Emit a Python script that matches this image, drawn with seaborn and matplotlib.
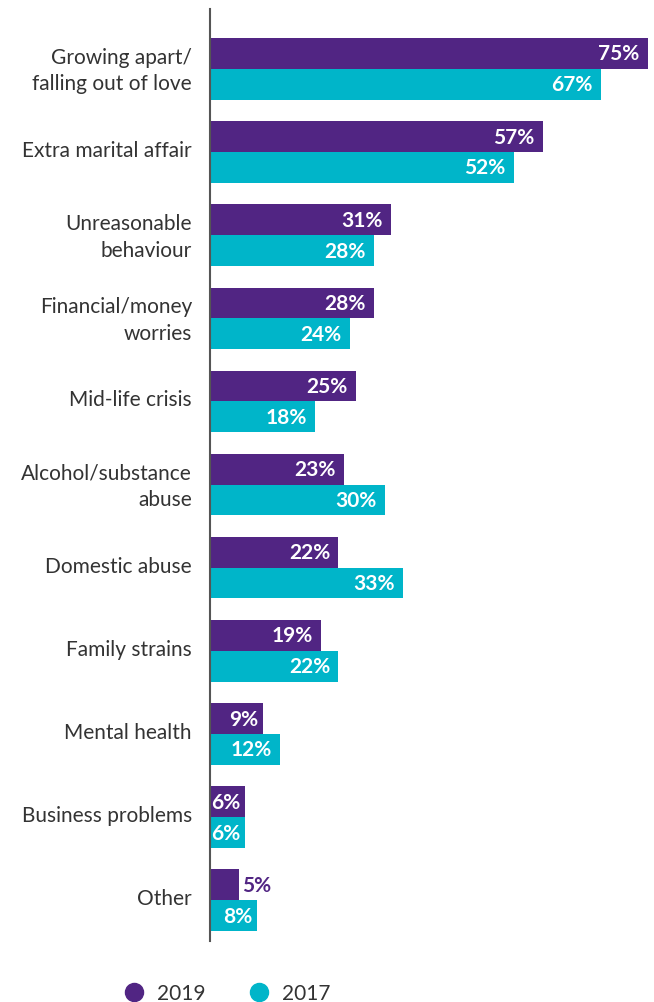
import matplotlib
matplotlib.use("Agg")
import matplotlib.pyplot as plt
import matplotlib.transforms as mtransforms
from matplotlib.lines import Line2D
import seaborn as sns
import pandas as pd

reasons = [
    "Growing apart/\nfalling out of love",
    "Extra marital affair",
    "Unreasonable\nbehaviour",
    "Financial/money\nworries",
    "Mid-life crisis",
    "Alcohol/substance\nabuse",
    "Domestic abuse",
    "Family strains",
    "Mental health",
    "Business problems",
    "Other",
]
pct_2019 = [75, 57, 31, 28, 25, 23, 22, 19, 9, 6, 5]
pct_2017 = [67, 52, 28, 24, 18, 30, 33, 22, 12, 6, 8]
years = ["2019", "2017"]

PURPLE = "#512583"
TEAL = "#00B5C9"
TEXT = "#333333"

df = pd.DataFrame({
    "reason": reasons * 2,
    "pct": pct_2019 + pct_2017,
    "year": [years[0]] * len(reasons) + [years[1]] * len(reasons),
})

sns.set_theme(style="white")
plt.rcParams["font.family"] = ["Lato", "DejaVu Sans"]

fig = plt.figure(figsize=(6.54, 10.03), dpi=100)
ax = fig.add_axes([210 / 654, 61 / 1003, 1 - 210 / 654, (993 - 61) / 1003])

sns.barplot(
    data=df, y="reason", x="pct", hue="year", order=reasons, hue_order=years,
    palette=[PURPLE, TEAL], width=0.74, gap=0.0, orient="h", ax=ax, legend=False,
    saturation=1, linewidth=0,
)

ax.set_xlim(0, (654 - 210) / 5.84)
ax.set_ylim(len(reasons) - 1 + 0.49, -0.72)
ax.set_xlabel("")
ax.set_ylabel("")
ax.set_xticks([])
for side in ["top", "right", "bottom"]:
    ax.spines[side].set_visible(False)
ax.spines["left"].set_color("#555555")
ax.spines["left"].set_linewidth(1.5)
ax.tick_params(axis="y", length=0, pad=13, labelsize=15, labelcolor=TEXT)
shift_up = mtransforms.ScaledTranslation(0, 4 / 100, fig.dpi_scale_trans)
for lbl in ax.get_yticklabels():
    lbl.set_horizontalalignment("right")
    lbl.set_linespacing(1.4)
    lbl.set_transform(lbl.get_transform() + shift_up)

# value labels: inside the bar in white, or outside in the bar colour when too short
for container, color in zip(ax.containers, [PURPLE, TEAL]):
    for bar in container:
        v = bar.get_width()
        y = bar.get_y() + bar.get_height() / 2
        txt = f"{v:.0f}%"
        if v >= 8:
            ax.annotate(txt, (v, y), xytext=(-6 if v >= 10 else -3, 0),
                        textcoords="offset points", ha="right", va="center",
                        color="white", fontsize=15, fontweight="bold")
        elif v >= 6:
            ax.annotate(txt, (0, y), xytext=(1, 0), textcoords="offset points",
                        ha="left", va="center", color="white",
                        fontsize=15, fontweight="bold")
        else:
            ax.annotate(txt, (v, y), xytext=(2, 0), textcoords="offset points",
                        ha="left", va="center", color=color,
                        fontsize=15, fontweight="bold")

handles = [
    Line2D([], [], marker="o", linestyle="", markersize=13, color=PURPLE),
    Line2D([], [], marker="o", linestyle="", markersize=13, color=TEAL),
]
fig.legend(handles, years, loc="center", bbox_to_anchor=(222 / 654, 1 - 994 / 1003),
           ncol=2, frameon=False, fontsize=15, handletextpad=0.1,
           columnspacing=1.6, labelcolor=TEXT)

fig.savefig("out.png", dpi=100)
